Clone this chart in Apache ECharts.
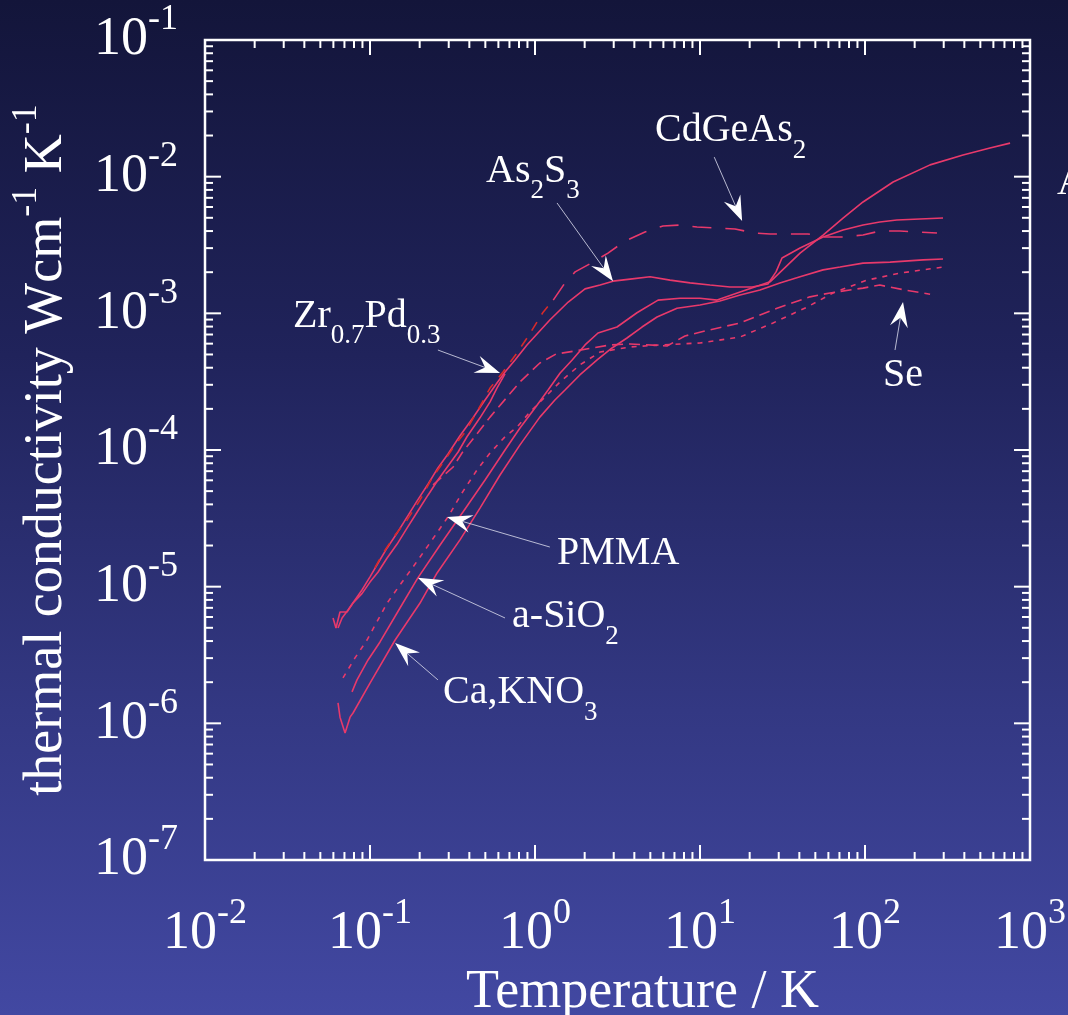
<!DOCTYPE html>
<html>
<head>
<meta charset="utf-8">
<script src="https://cdn.jsdelivr.net/npm/echarts@6/dist/echarts.min.js"></script>
<style>
  html, body { margin: 0; padding: 0; background: #1d2050; }
  #chart { width: 1068px; height: 1015px; }
</style>
</head>
<body>
<div id="chart"></div>
<script>
// Thermal conductivity of amorphous solids: temperature in K, conductivity in W cm^-1 K^-1

const zrPdT = [0.0597,0.0622,0.0658,0.0725,0.0789,0.0894,0.100,0.112,0.127,0.146,0.168,0.195,0.225,0.258,0.297,0.342,0.387,0.464,0.534,0.588,0.658];
const zrPdK = [5.90e-6,4.98e-6,6.53e-6,6.53e-6,7.59e-6,8.89e-6,1.08e-5,1.28e-5,1.62e-5,2.05e-5,2.69e-5,3.58e-5,4.69e-5,6.03e-5,7.64e-5,9.67e-5,1.25e-4,1.72e-4,2.25e-4,2.84e-4,3.60e-4];

const as2s3T = [0.0640,0.0677,0.0736,0.0811,0.0894,0.100,0.112,0.127,0.146,0.168,0.193,0.225,0.258,0.297,0.351,0.421,0.498,0.588,0.658,0.757,0.894,1.23,1.59,2.01,2.48,2.97,3.77,4.98,6.58,8.70,11.5,15.2,20.7,25.8,28.9,31.4,40.4,55.7,73.6,97.3,123,156,215,297];
const as2s3K = [4.98e-6,5.90e-6,6.75e-6,7.99e-6,9.45e-6,1.18e-5,1.49e-5,1.92e-5,2.47e-5,3.24e-5,4.24e-5,5.64e-5,7.39e-5,9.35e-5,1.27e-4,1.72e-4,2.32e-4,3.09e-4,3.72e-4,4.56e-4,5.87e-4,8.94e-4,1.21e-3,1.51e-3,1.61e-3,1.72e-3,1.78e-3,1.85e-3,1.75e-3,1.67e-3,1.61e-3,1.56e-3,1.56e-3,1.64e-3,2.01e-3,2.54e-3,3.01e-3,3.62e-3,4.07e-3,4.43e-3,4.66e-3,4.82e-3,4.90e-3,4.98e-3];

const sio2T = [0.0778,0.0834,0.0973,0.115,0.152,0.195,0.266,0.366,0.498,0.658,0.811,1.00,1.20,1.42,1.68,2.01,2.41,3.14,4.15,5.57,7.57,10.0,12.7,17.5,26.6,40.4,55.7,73.6,97.3,148,248,393,572,757];
const sio2K = [1.70e-6,2.08e-6,2.91e-6,3.94e-6,6.98e-6,1.16e-5,2.02e-5,3.52e-5,6.03e-5,1.00e-4,1.45e-4,2.03e-4,2.75e-4,3.66e-4,4.56e-4,5.87e-4,7.18e-4,7.94e-4,1.01e-3,1.25e-3,1.29e-3,1.29e-3,1.25e-3,1.43e-3,1.70e-3,2.76e-3,3.74e-3,4.98e-3,6.53e-3,9.14e-3,1.22e-2,1.44e-2,1.62e-2,1.76e-2];

const caknoT = [0.0640,0.0658,0.0706,0.0757,0.0789,0.100,0.142,0.201,0.255,0.351,0.464,0.614,0.811,1.07,1.32,1.52,1.87,2.38,2.93,3.61,4.45,5.49,7.26,10.0,13.2,17.5,23.1,30.5,40.4,55.7,70.6,97.3,142,225,297];
const caknoK = [1.41e-6,1.11e-6,8.50e-7,1.11e-6,1.19e-6,1.97e-6,4.07e-6,7.59e-6,1.26e-5,2.20e-5,3.76e-5,6.56e-5,1.09e-4,1.74e-4,2.32e-4,2.75e-4,3.54e-4,4.56e-4,5.58e-4,6.60e-4,7.94e-4,9.40e-4,1.09e-3,1.15e-3,1.23e-3,1.36e-3,1.48e-3,1.67e-3,1.85e-3,2.08e-3,2.18e-3,2.33e-3,2.37e-3,2.46e-3,2.50e-3];

const pmmaT = [0.0686,0.0811,0.0959,0.110,0.127,0.152,0.182,0.231,0.297,0.361,0.445,0.534,0.658,0.778,0.933,1.15,1.42,1.87,2.48,3.77,5.72,10.0,17.5,27.7,44.5,64.0,103,163,297];
const pmmaK = [2.15e-6,3.01e-6,4.07e-6,5.51e-6,7.59e-6,1.03e-5,1.39e-5,2.09e-5,3.24e-5,4.85e-5,7.14e-5,9.51e-5,1.25e-4,1.47e-4,1.90e-4,2.44e-4,3.15e-4,4.19e-4,5.21e-4,5.67e-4,5.87e-4,6.07e-4,6.71e-4,8.50e-4,1.11e-3,1.41e-3,1.75e-3,1.97e-3,2.18e-3];

const seT = [0.241,0.319,0.361,0.534,0.811,1.07,1.34,1.75,2.22,2.85,3.77,6.31,8.11,10.7,17.5,29.3,46.4,61.4,97.3,123,175,248];
const seK = [5.55e-5,7.51e-5,9.51e-5,1.74e-4,3.15e-4,4.33e-4,5.04e-4,5.30e-4,5.58e-4,5.87e-4,5.97e-4,5.77e-4,6.83e-4,7.43e-4,8.50e-4,1.09e-3,1.32e-3,1.41e-3,1.53e-3,1.61e-3,1.48e-3,1.38e-3];

// CdGeAs2: low-temperature run and high-temperature run
const cdgeLowT = [0.107,0.120,0.142,0.168,0.201,0.238,0.293,0.328,0.377,0.451,0.534,0.640,0.778,0.920,1.12,1.29];
const cdgeLowK = [1.37e-5,1.76e-5,2.39e-5,3.08e-5,4.31e-5,6.24e-5,8.89e-5,1.09e-4,1.35e-4,1.96e-4,2.84e-4,3.72e-4,5.13e-4,6.94e-4,1.02e-3,1.25e-3];
const cdgeHighT = [1.29,1.52,1.75,2.15,2.77,3.51,4.64,5.97,7.67,9.59,12.7,16.3,21.5,26.6,35.1,45.1,57.2,73.6,97.3,123,163,207,273];
const cdgeHighK = [1.25e-3,1.67e-3,2.01e-3,2.30e-3,2.76e-3,3.38e-3,3.94e-3,4.36e-3,4.43e-3,4.28e-3,4.21e-3,4.14e-3,3.87e-3,3.81e-3,3.81e-3,3.81e-3,3.62e-3,3.62e-3,3.74e-3,4.00e-3,4.00e-3,3.94e-3,3.87e-3];

// Axis ranges (decades)
const xMin = 0.01, xMax = 1000;
const yMin = 1e-7, yMax = 1e-1;

// Labels with arrows: text anchor, arrow tail, arrow tip (data coordinates)
const annoText = ['{m|CdGeAs}{b|2}', '{m|As}{b|2}{m|S}{b|3}', '{m|Zr}{b|0.7}{m|Pd}{b|0.3}', '{m|PMMA}', '{m|a-SiO}{b|2}', '{m|Ca,KNO}{b|3}', '{m|Se}'];
const annoAt   = [[5.34,2.16e-2],[0.505,1.10e-2],[0.0342,9.56e-4],[1.36,1.76e-5],[0.726,6.00e-6],[0.277,1.67e-6],[128.6,3.48e-4]];
const annoTail = [[12.2,1.39e-2],[1.36,6.42e-3],[0.258,5.39e-4],[1.23,1.95e-5],[0.658,5.90e-6],[0.258,2.08e-6],[152,5.39e-4]];
const annoTip  = [[18.0,4.74e-3],[2.97,1.72e-3],[0.614,3.66e-4],[0.293,3.24e-5],[0.195,1.16e-5],[0.142,3.87e-6],[170,1.21e-3]];

const SERIF = '"Liberation Serif", "DejaVu Serif", serif';
const CURVE = '#e8396b';
const CURVE_RED = '#d62a2a';

function pairs(xs, ys) {
  const n = Math.min(xs.length, ys.length);
  const out = [];
  for (let i = 0; i < n; i++) out.push([xs[i], ys[i]]);
  return out;
}

function decadeTicks(lo, hi) {
  const major = [], minor = [];
  const e0 = Math.round(Math.log10(lo)), e1 = Math.round(Math.log10(hi));
  for (let e = e0; e <= e1; e++) {
    const base = Math.pow(10, e);
    major.push(base);
    if (e < e1) for (let m = 2; m <= 9; m++) minor.push(m * base);
  }
  return { major, minor };
}
const xTicks = decadeTicks(xMin, xMax);
const yTicks = decadeTicks(yMin, yMax);

const powRich = {
  b: { fontSize: 54, fontFamily: SERIF, color: '#fff', lineHeight: 56, verticalAlign: 'middle' },
  s: { fontSize: 36, fontFamily: SERIF, color: '#fff', height: 16, verticalAlign: 'top' }
};
function powLabel(v) {
  const e = Math.round(Math.log10(v));
  return '{b|10}{s|' + e + '}';
}

function seg(x1, y1, x2, y2) {
  return { type: 'line', shape: { x1, y1, x2, y2 }, style: { stroke: '#fff', lineWidth: 2 } };
}

function renderFrameTicks(params, api) {
  const bl = api.coord([xMin, yMin]);
  const tr = api.coord([xMax, yMax]);
  const kids = [];
  [[xTicks.major, 15], [xTicks.minor, 8]].forEach(([vals, len]) => {
    vals.forEach(v => {
      const x = api.coord([v, yMin])[0];
      kids.push(seg(x, bl[1], x, bl[1] - len));
      kids.push(seg(x, tr[1], x, tr[1] + len));
    });
  });
  [[yTicks.major, 16], [yTicks.minor, 8]].forEach(([vals, len]) => {
    vals.forEach(v => {
      const y = api.coord([xMin, v])[1];
      kids.push(seg(bl[0], y, bl[0] + len, y));
      kids.push(seg(tr[0], y, tr[0] - len, y));
    });
  });
  return { type: 'group', children: kids };
}

function renderAnnotation(params, api) {
  const i = params.dataIndex;
  const at = api.coord(annoAt[i]);
  const tail = api.coord(annoTail[i]);
  const tip = api.coord(annoTip[i]);
  const dx = tip[0] - tail[0], dy = tip[1] - tail[1];
  const len = Math.sqrt(dx * dx + dy * dy) || 1;
  const ux = dx / len, uy = dy / len, nx = -uy, ny = ux;
  const L = 25, W = 9, N = 16;
  const head = [
    [tip[0], tip[1]],
    [tip[0] - L * ux + W * nx, tip[1] - L * uy + W * ny],
    [tip[0] - N * ux, tip[1] - N * uy],
    [tip[0] - L * ux - W * nx, tip[1] - L * uy - W * ny]
  ];
  return {
    type: 'group',
    children: [
      { type: 'line', shape: { x1: tail[0], y1: tail[1], x2: tip[0] - N * ux, y2: tip[1] - N * uy },
        style: { stroke: 'rgba(210,212,230,0.85)', lineWidth: 1 } },
      { type: 'polygon', shape: { points: head }, style: { fill: '#ffffff' } },
      { type: 'text', x: at[0], y: at[1],
        style: {
          text: annoText[i], align: 'left', verticalAlign: 'middle', fill: '#fff',
          fontFamily: SERIF, fontSize: 40,
          rich: {
            m: { fontSize: 40, fontFamily: SERIF, fill: '#fff', lineHeight: 56, verticalAlign: 'middle' },
            b: { fontSize: 27, fontFamily: SERIF, fill: '#fff', height: 16, verticalAlign: 'bottom' }
          }
        } }
    ]
  };
}

function curve(name, xs, ys, type, color) {
  return {
    name, type: 'line', data: pairs(xs, ys), showSymbol: false, symbol: 'none',
    lineStyle: { color: color || CURVE, width: 1.6, type: type || 'solid' },
    z: 3, silent: true
  };
}

const chart = echarts.init(document.getElementById('chart'), null, { renderer: 'canvas' });
chart.setOption({
  animation: false,
  backgroundColor: {
    type: 'linear', x: 0, y: 0, x2: 0, y2: 1,
    colorStops: [
      { offset: 0, color: '#13153a' },
      { offset: 0.35, color: '#20235b' },
      { offset: 0.7, color: '#333883' },
      { offset: 1, color: '#4248a2' }
    ]
  },
  grid: {
    left: 205, right: 38, top: 40, bottom: 155, outerBoundsMode: 'none',
    show: true, borderColor: '#ffffff', borderWidth: 2.5, backgroundColor: 'transparent'
  },
  xAxis: {
    type: 'log', logBase: 10, min: xMin, max: xMax, splitNumber: 5,
    axisLine: { show: false }, axisTick: { show: false }, splitLine: { show: false }, minorTick: { show: false },
    axisLabel: { formatter: powLabel, rich: powRich, margin: 46, color: '#fff' },
    name: 'Temperature / K', nameLocation: 'middle', nameGap: 99,
    nameTextStyle: { color: '#fff', fontFamily: SERIF, fontSize: 54, padding: [0, 0, 0, 50] }
  },
  yAxis: {
    type: 'log', logBase: 10, min: yMin, max: yMax, splitNumber: 6,
    axisLine: { show: false }, axisTick: { show: false }, splitLine: { show: false }, minorTick: { show: false },
    axisLabel: { formatter: powLabel, rich: powRich, margin: 27, color: '#fff' },
    name: '{b|thermal conductivity Wcm}{s|-1}{b| K}{s|-1}', nameLocation: 'middle', nameGap: 130, nameRotate: 90,
    nameTextStyle: { color: '#fff', fontFamily: SERIF, fontSize: 54, rich: powRich }
  },
  graphic: [
    { type: 'text', left: 1057, top: 163, silent: true,
      style: { text: 'A', fill: '#fff', font: '40px "Liberation Serif", serif' } }
  ],
  series: [
    curve('Zr0.7Pd0.3', zrPdT, zrPdK),
    curve('As2S3', as2s3T, as2s3K),
    curve('a-SiO2', sio2T, sio2K),
    curve('Ca,KNO3', caknoT, caknoK),
    curve('PMMA', pmmaT, pmmaK, [5, 6]),
    curve('Se', seT, seK, [11, 6]),
    curve('CdGeAs2 (low T)', cdgeLowT, cdgeLowK, [10, 9], CURVE_RED),
    curve('CdGeAs2', cdgeHighT, cdgeHighK, [19, 14]),
    {
      type: 'custom', name: 'frame ticks', data: [[1, 1e-3]], renderItem: renderFrameTicks,
      clip: false, silent: true, z: 5
    },
    {
      type: 'custom', name: 'labels', data: annoAt, renderItem: renderAnnotation,
      clip: false, silent: true, z: 6
    }
  ]
});
</script>
</body>
</html>
